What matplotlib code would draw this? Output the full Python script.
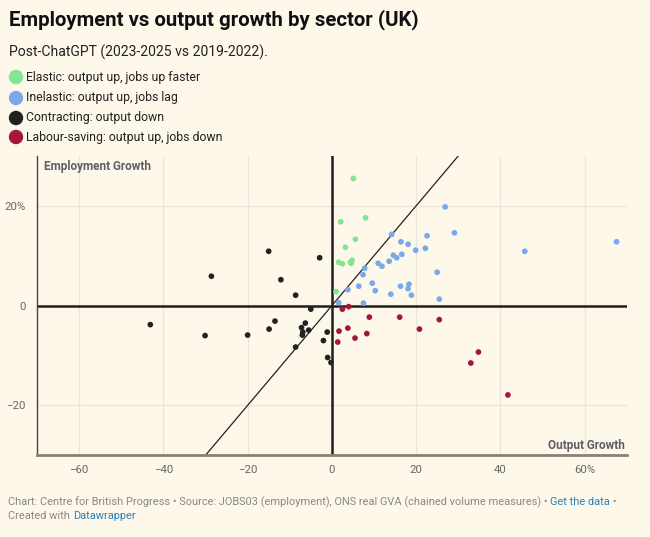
import matplotlib
matplotlib.use("Agg")
import matplotlib.pyplot as plt

plt.rcParams['font.family'] = ['Roboto', 'DejaVu Sans']

# ---- data (output growth %, employment growth %) ----
elastic_x = [5.1, 2.1, 8.0, 5.6, 3.2, 1.6, 2.5, 4.4, 4.8, 4.6, 1.0]
elastic_y = [25.5, 16.8, 17.6, 13.3, 11.7, 8.7, 8.4, 8.7, 9.1, 8.5, 2.8]

inelastic_x = [26.9, 29.1, 14.2, 22.6, 16.4, 18.1, 19.9, 22.2, 14.6, 15.4, 16.6,
               13.6, 11.0, 11.9, 7.8, 7.4, 45.8, 67.6, 25.0, 9.6, 10.3, 6.4,
               3.8, 16.3, 18.3, 18.1, 14.0, 18.9, 25.5, 7.5, 1.6]
inelastic_y = [19.8, 14.6, 14.3, 14.0, 12.8, 12.3, 11.1, 11.5, 10.1, 9.6, 10.3,
               8.9, 8.5, 7.9, 7.5, 6.2, 10.9, 12.8, 6.7, 4.5, 3.0, 3.9,
               3.2, 3.9, 4.3, 3.4, 2.3, 2.1, 1.3, 0.5, 0.6]

contracting_x = [-15.0, -2.9, -28.6, -12.1, -8.6, -5.0, -43.1, -13.5, -14.9, -30.1,
                 -20.0, -7.2, -6.3, -5.5, -6.9, -7.0, -1.1, -2.0, -8.6, -1.0, -0.2]
contracting_y = [10.9, 9.6, 5.9, 5.2, 2.1, -0.7, -3.8, -3.1, -4.7, -6.0,
                 -5.9, -4.4, -3.5, -4.9, -5.3, -5.9, -5.3, -7.0, -8.3, -10.4, -11.4]

labour_x = [2.5, 4.0, 8.9, 16.1, 25.5, 1.7, 3.8, 20.8, 8.3, 1.4, 5.5, 34.8, 33.0, 41.8]
labour_y = [-0.7, -0.2, -2.3, -2.3, -2.8, -5.1, -4.5, -4.7, -5.6, -7.3, -6.5, -9.3, -11.5, -17.9]

x_ticks = [-60, -40, -20, 0, 20, 40, 60]
x_ticklabels = ['\u221260', '\u221240', '\u221220', '0', '20', '40', '60%']
y_ticks = [-20, 0, 20]
y_ticklabels = ['\u221220', '0', '20%']

series = [
    ('Elastic: output up, jobs up faster', elastic_x, elastic_y, '#82e58f'),
    ('Inelastic: output up, jobs lag', inelastic_x, inelastic_y, '#79a9e8'),
    ('Contracting: output down', contracting_x, contracting_y, '#222222'),
    ('Labour-saving: output up, jobs down', labour_x, labour_y, '#a3173a'),
]

BG = '#fdf8ea'
W, H = 650, 537
fig = plt.figure(figsize=(W / 100, H / 100), dpi=100, facecolor=BG)

def fx(px):
    return px / W

def fy(py):
    return 1 - py / H

ax = fig.add_axes([fx(37), fy(455.3), fx(626.7) - fx(37), fy(156) - fy(455.3)])
ax.set_facecolor(BG)
ax.set_xlim(-70, 70)
ax.set_ylim(-30, 30)

# grid
for t in x_ticks:
    if t != 0:
        ax.axvline(t, color='#ece6da', lw=1, zorder=0)
for t in y_ticks:
    if t != 0:
        ax.axhline(t, color='#ece6da', lw=1, zorder=0)

# zero lines
ax.axhline(0, color='#1e1e1e', lw=1.8, zorder=2)
ax.axvline(0, color='#1e1e1e', lw=1.8, zorder=2)
# diagonal y = x
ax.plot([-30, 30], [-30, 30], color='#222222', lw=0.9, zorder=2)

for name, xs, ys, c in series:
    ax.scatter(xs, ys, s=17, color=c, edgecolors='none', zorder=3)

for s in ['top', 'right']:
    ax.spines[s].set_visible(False)
ax.spines['left'].set_color('#4a453c')
ax.spines['left'].set_linewidth(1.0)
ax.spines['bottom'].set_color('#8a8172')
ax.spines['bottom'].set_linewidth(2.0)

ax.set_xticks(x_ticks)
ax.set_xticklabels(x_ticklabels)
ax.set_yticks(y_ticks)
ax.set_yticklabels(y_ticklabels)
ax.tick_params(axis='both', length=0, labelsize=8.2, colors='#666666')
ax.tick_params(axis='x', pad=7)
ax.tick_params(axis='y', pad=8)

ax.text(0.012, 0.985, 'Employment Growth', transform=ax.transAxes, ha='left', va='top',
        fontsize=8.5, fontweight='bold', color='#5f5d68')
ax.text(0.997, 0.012, 'Output Growth', transform=ax.transAxes, ha='right', va='bottom',
        fontsize=8.5, fontweight='bold', color='#5f5d68')

# title / subtitle
fig.text(fx(9), fy(20), 'Employment vs output growth by sector (UK)', ha='left', va='center',
         fontsize=14.7, fontweight='bold', color='#111111')
fig.text(fx(9), fy(52), 'Post-ChatGPT (2023-2025 vs 2019-2022).', ha='left', va='center',
         fontsize=10.1, color='#222222')

# legend
leg_y = [77, 98, 118, 137]
for (name, xs, ys, c), py in zip(series, leg_y):
    fig.patches.append(matplotlib.patches.Ellipse((fx(16), fy(py)), 13 / W, 13 / H,
                                                  transform=fig.transFigure, color=c))
    fig.text(fx(26), fy(py), name, ha='left', va='center', fontsize=8.8, color='#222222')

# footer (chained pieces)
renderer = fig.canvas.get_renderer()

def chain(pieces, x0, py, size=7.9):
    x = x0
    for txt, col in pieces:
        t = fig.text(fx(x), fy(py), txt, ha='left', va='center', fontsize=size, color=col)
        bb = t.get_window_extent(renderer=renderer)
        x += bb.width

GREY = '#888888'
LINK = '#2c7fb8'
chain([('Chart: Centre for British Progress \u2022 Source: JOBS03 (employment), '
        'ONS real GVA (chained volume measures) \u2022 ', GREY),
       ('Get the data', LINK), (' \u2022', GREY)], 8, 502)
chain([('Created with ', GREY), ('Datawrapper', LINK)], 8, 516)

fig.savefig('out.png', dpi=100, facecolor=BG)
